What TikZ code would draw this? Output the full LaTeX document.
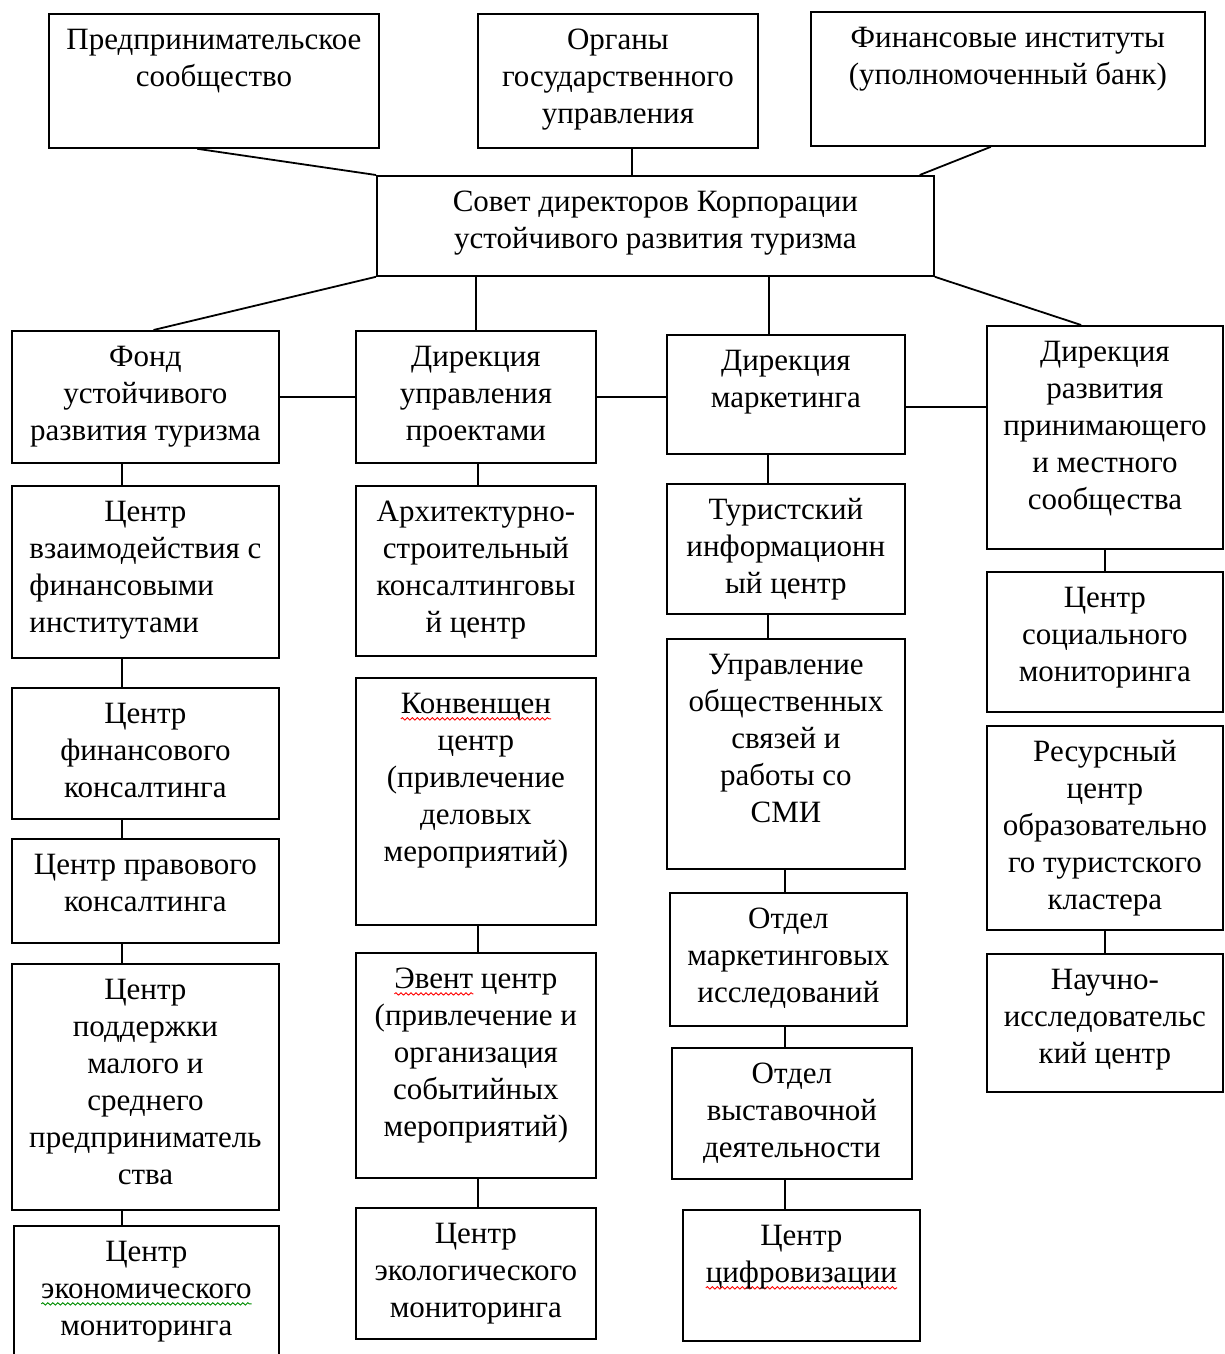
\documentclass[tikz,border=0pt]{standalone}
\usepackage{fontspec}
\setmainfont{Liberation Serif}
\usetikzlibrary{calc,decorations.pathmorphing}

\tikzset{
	orgcell/.style={draw, line width=1.8pt, inner sep=0pt, anchor=north west},
	link/.style={line width=1.8pt},
	wave/.style={line width=0.9pt, decorate, decoration={snake, amplitude=1.2pt, segment length=5pt}}
}
% box from (x1,y1) to (x2,y2), text hung from the top
\newcommand{\orgbox}[6]{%
	\pgfmathsetmacro\boxw{#4-#2}\pgfmathsetmacro\boxh{#5-#3}%
	\node[orgcell] (#1) at (#2,#3) {\begin{minipage}[c][\boxh pt][t]{\boxw pt}\centering\fontsize{31}{37}\selectfont\rule{0pt}{36pt}#6\end{minipage}};}
% word with a wavy underline
\newlength\spellw
\newcommand{\spell}[2][red]{\leavevmode\settowidth\spellw{#2}%
	\rlap{\smash{\tikz[overlay]\draw[#1, wave] (0pt,-5pt) -- (\spellw,-5pt);}}#2}

\begin{document}
\begin{tikzpicture}[x=1pt,y=-1pt]
	\useasboundingbox (0,0) rectangle (1224,1354);

	% top level
	\orgbox{pred}{48}{13}{378}{147}{Предпринимательское\\сообщество}
	\orgbox{organ}{477}{13}{757}{147}{Органы\\государственного\\управления}
	\orgbox{fin}{810}{11}{1204}{145}{Финансовые институты\\(уполномоченный банк)}
	\orgbox{sovet}{376}{175}{933}{275}{Совет директоров Корпорации\\устойчивого развития туризма}

	% directions
	\orgbox{fond}{11}{330}{278}{462}{Фонд\\устойчивого\\развития туризма}
	\orgbox{dirupr}{355}{330}{595}{462}{Дирекция\\управления\\проектами}
	\orgbox{dirmark}{666}{334}{904}{453}{Дирекция\\маркетинга}
	\orgbox{dirrazv}{986}{325}{1222}{548}{Дирекция\\развития\\принимающего\\и местного\\сообщества}

	% column 1
	\orgbox{cvz}{11}{485}{278}{657}{Центр\\\begin{tabular}[t]{@{}l@{}}взаимодействия с\\финансовыми\\институтами\end{tabular}}
	\orgbox{cfin}{11}{687}{278}{818}{Центр\\финансового\\консалтинга}
	\orgbox{cprav}{11}{838}{278}{942}{Центр правового\\консалтинга}
	\orgbox{cpod}{11}{963}{278}{1209}{Центр\\поддержки\\малого и\\среднего\\предприниматель\\ства}
	\orgbox{cekon}{13}{1225}{278}{1375}{Центр\\\spell[green!55!black]{экономического}\\мониторинга}

	% column 2
	\orgbox{arch}{355}{485}{595}{655}{Архитектурно-\\строительный\\консалтинговы\\й центр}
	\orgbox{konv}{355}{677}{595}{924}{\spell{Конвенщен}\\центр\\(привлечение\\деловых\\мероприятий)}
	\orgbox{event}{355}{952}{595}{1177}{\spell{Эвент} центр\\(привлечение и\\организация\\событийных\\мероприятий)}
	\orgbox{ecol}{355}{1207}{595}{1338}{Центр\\экологического\\мониторинга}

	% column 3
	\orgbox{tur}{666}{483}{904}{613}{Туристский\\информационн\\ый центр}
	\orgbox{upr}{666}{638}{904}{868}{Управление\\общественных\\связей и\\работы со\\СМИ}
	\orgbox{otdmark}{669}{892}{906}{1025}{Отдел\\маркетинговых\\исследований}
	\orgbox{otdvyst}{671}{1047}{911}{1178}{Отдел\\выставочной\\деятельности}
	\orgbox{cifr}{682}{1209}{919}{1340}{Центр\\\spell{цифровизации}}

	% column 4
	\orgbox{soc}{986}{571}{1222}{711}{Центр\\социального\\мониторинга}
	\orgbox{res}{986}{725}{1222}{929}{Ресурсный\\центр\\образовательно\\го туристского\\кластера}
	\orgbox{nauch}{986}{953}{1222}{1091}{Научно-\\исследовательс\\кий центр}

	% links to the board
	\coordinate (o1) at ($(organ.south west)!0.55!(organ.south east)$);
	\coordinate (m1) at ($(dirmark.north west)!0.43!(dirmark.north east)$);
	\coordinate (m2) at ($(dirmark.north east)!0.605!(dirmark.south east)$);
	\draw[link] ($(pred.south west)!0.45!(pred.south east)$) -- (sovet.north west);
	\draw[link] (o1) -- (o1 |- sovet.north);
	\draw[link] ($(fin.south west)!0.457!(fin.south east)$) -- ($(sovet.north west)!0.973!(sovet.north east)$);
	\draw[link] (sovet.south west) -- ($(fond.north west)!0.53!(fond.north east)$);
	\draw[link] (dirupr.north) -- (dirupr.north |- sovet.south);
	\draw[link] (m1) -- (m1 |- sovet.south);
	\draw[link] (sovet.south east) -- ($(dirrazv.north west)!0.4!(dirrazv.north east)$);

	% links between directions
	\draw[link] (fond.east) -- (dirupr.west);
	\draw[link] (dirupr.east) -- (dirmark.west |- dirupr.east);
	\draw[link] (m2) -- (m2 -| dirrazv.west);

	% links down the columns
	\coordinate (c1) at (122,0);
	\coordinate (c2) at (478,0);
	\coordinate (c3) at (768,0);
	\coordinate (c3b) at (785,0);
	\coordinate (c4) at (1105,0);
	\foreach \a/\b in {fond/cvz,cvz/cfin,cfin/cprav,cprav/cpod,cpod/cekon}
		\draw[link] (\a.south -| c1) -- (\b.north -| c1);
	\foreach \a/\b in {dirupr/arch,konv/event,event/ecol}
		\draw[link] (\a.south -| c2) -- (\b.north -| c2);
	\foreach \a/\b in {dirmark/tur,tur/upr}
		\draw[link] (\a.south -| c3) -- (\b.north -| c3);
	\foreach \a/\b in {upr/otdmark,otdmark/otdvyst,otdvyst/cifr}
		\draw[link] (\a.south -| c3b) -- (\b.north -| c3b);
	\foreach \a/\b in {dirrazv/soc,res/nauch}
		\draw[link] (\a.south -| c4) -- (\b.north -| c4);

\end{tikzpicture}
\end{document}
